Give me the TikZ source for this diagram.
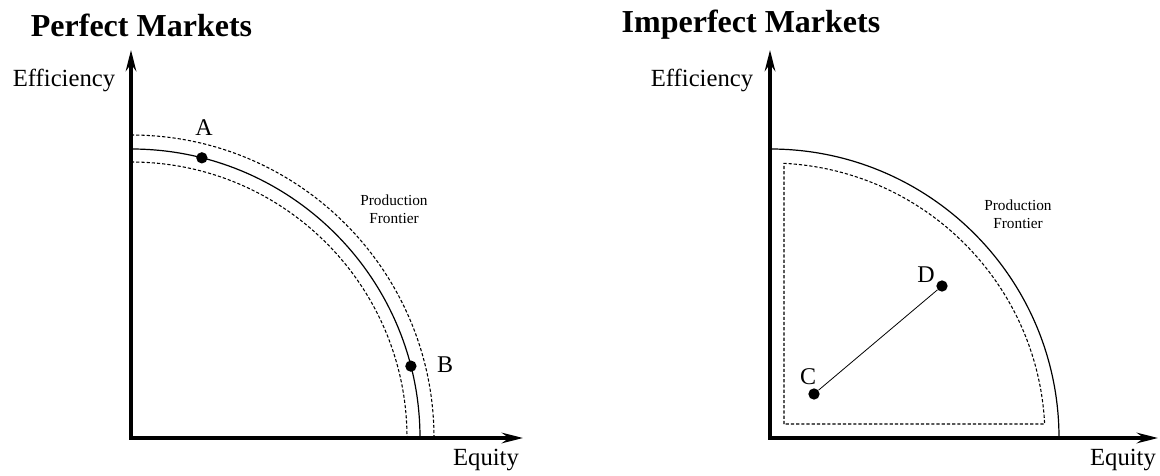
\documentclass[tikz,border=0pt]{standalone}
\usepackage{fontspec}
\setmainfont{Liberation Serif}
\usetikzlibrary{arrows.meta}
\begin{document}
\begin{tikzpicture}[x=0.75pt,y=0.75pt,
 axis/.style={line width=2.4pt, {Stealth[length=16pt,width=8pt,inset=5.5pt]}-{Stealth[length=16pt,width=8pt,inset=5.5pt]}},
 frontier/.style={line width=0.9pt},
 bound/.style={line width=0.8pt, dash pattern=on 2.4pt off 1.5pt},
 dot/.style={circle, fill=black, inner sep=0pt, minimum size=8.5pt},
 lbl/.style={font=\fontsize{18.5}{22}\selectfont, inner sep=0pt},
 pt/.style={font=\fontsize{18}{22}\selectfont, inner sep=0pt},
 ttl/.style={font=\fontsize{24}{28}\selectfont\bfseries, inner sep=0pt},
 small/.style={font=\fontsize{11.5}{13.5}\selectfont, align=center, inner sep=0pt}]
\useasboundingbox (0,0) rectangle (1160,475);
% ---------- left panel ----------
\coordinate (O1) at (131,37);
\coordinate (Y1) at (131,425);
\coordinate (X1) at (523,37);
\draw[axis] (Y1) |- (X1);
\draw[frontier] ([shift={(0,289)}]O1) arc[start angle=90,end angle=0,radius=289];
\draw[bound] ([shift={(0,303)}]O1) arc[start angle=90,end angle=0,radius=303];
\draw[bound] ([shift={(0,276)}]O1) arc[start angle=90,end angle=0,radius=276];
\node[dot] (A) at ([shift={(75.8:289)}]O1) {};
\node[dot] (B) at ([shift={(14.4:289)}]O1) {};
\node[pt] (Alab) at (204,347) {A};
\node[pt] (Blab) at (445,110) {B};
\node[small] (pf1) at (394,266) {Production\\Frontier};
\node[ttl] (t1) at (141.5,450) {Perfect Markets};
\node[lbl] (ef1) at (64,395) {Efficiency};
\node[lbl] (eq1) at (486,15) {Equity};
% ---------- right panel ----------
\coordinate (O2) at (770,37);
\coordinate (Y2) at (770,425);
\coordinate (X2) at (1158,37);
\draw[axis] (Y2) |- (X2);
\draw[frontier] ([shift={(0,289)}]O2) arc[start angle=90,end angle=0,radius=289];
\draw[bound] ([shift={(14,14)}]O2) -- ([shift={(14,274.64)}]O2) arc[start angle=87.08,end angle=2.92,radius=275] -- cycle;
\node[dot] (C) at ([shift={(44,44)}]O2) {};
\node[dot] (D) at ([shift={(172,152)}]O2) {};
\draw[line width=0.6pt] (C) -- (D);
\node[pt] (Clab) at (808,98) {C};
\node[pt] (Dlab) at (926,200) {D};
\node[small] (pf2) at (1018,261) {Production\\Frontier};
\node[ttl] (t2) at (751,450) {Imperfect Markets};
\node[lbl] (ef2) at (702,395) {Efficiency};
\node[lbl] (eq2) at (1123,15) {Equity};
\end{tikzpicture}
\end{document}
